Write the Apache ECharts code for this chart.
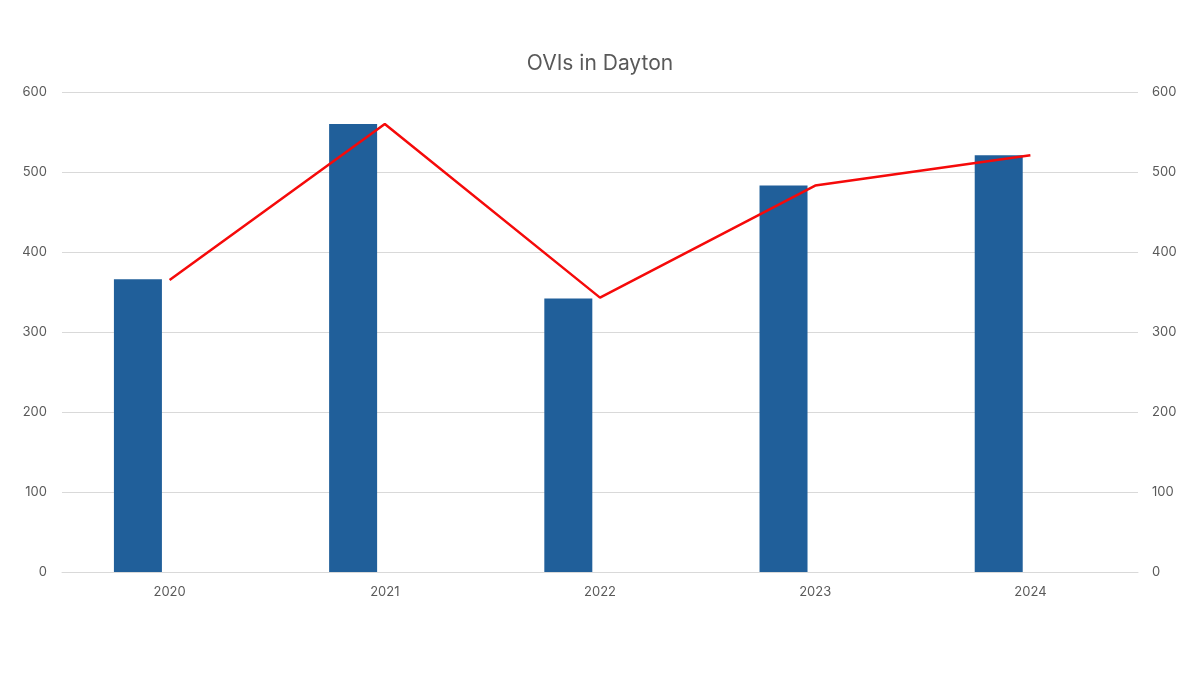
<!DOCTYPE html>
<html>
<head>
<meta charset="utf-8">
<script src="https://cdn.jsdelivr.net/npm/echarts@6/dist/echarts.min.js"></script>
<style>
  html, body { margin: 0; padding: 0; background: #fff; }
  #chart { width: 1200px; height: 675px; }
</style>
</head>
<body>
<div id="chart"></div>
<script>
const years = ["2020", "2021", "2022", "2023", "2024"];
const barValues = [366, 560, 342, 483, 521];
const lineValues = [365, 560, 343, 483, 521];
const emptyValues = [null, null, null, null, null];

const chart = echarts.init(document.getElementById("chart"), null, { renderer: "canvas" });

const labelStyle = { color: "#595959", fontSize: 13, fontFamily: "Inter" };
const gridLine = { lineStyle: { color: "#d9d9d9", width: 1 } };

const option = {
  animation: false,
  title: {
    text: "OVIs in Dayton",
    left: "center",
    top: 48,
    textStyle: { color: "#595959", fontSize: 21, fontWeight: "normal", fontFamily: "Inter" },
  },
  grid: { left: 62, right: 62, top: 92, bottom: 103 },
  xAxis: {
    type: "category",
    data: years,
    axisTick: { show: false },
    axisLine: { lineStyle: { color: "#d9d9d9" } },
    axisLabel: { ...labelStyle, margin: 14 },
  },
  yAxis: [
    {
      type: "value",
      min: 0,
      max: 600,
      interval: 100,
      axisLabel: { ...labelStyle, margin: 15 },
      splitLine: gridLine,
      axisLine: { show: false },
      axisTick: { show: false },
    },
    {
      type: "value",
      min: 0,
      max: 600,
      interval: 100,
      position: "right",
      axisLabel: { ...labelStyle, margin: 14 },
      splitLine: { show: false },
      axisLine: { show: false },
      axisTick: { show: false },
    },
  ],
  series: [
    {
      type: "bar",
      data: barValues,
      barWidth: 48,
      barGap: "32%",
      itemStyle: { color: "#205f9a" },
    },
    {
      type: "bar",
      data: emptyValues,
      barWidth: 48,
    },
    {
      type: "line",
      yAxisIndex: 1,
      data: lineValues,
      symbol: "none",
      lineStyle: { color: "#f50a0a", width: 2.5 },
    },
  ],
};

chart.setOption(option);
window.addEventListener("resize", chart.resize);
</script>
</body>
</html>
